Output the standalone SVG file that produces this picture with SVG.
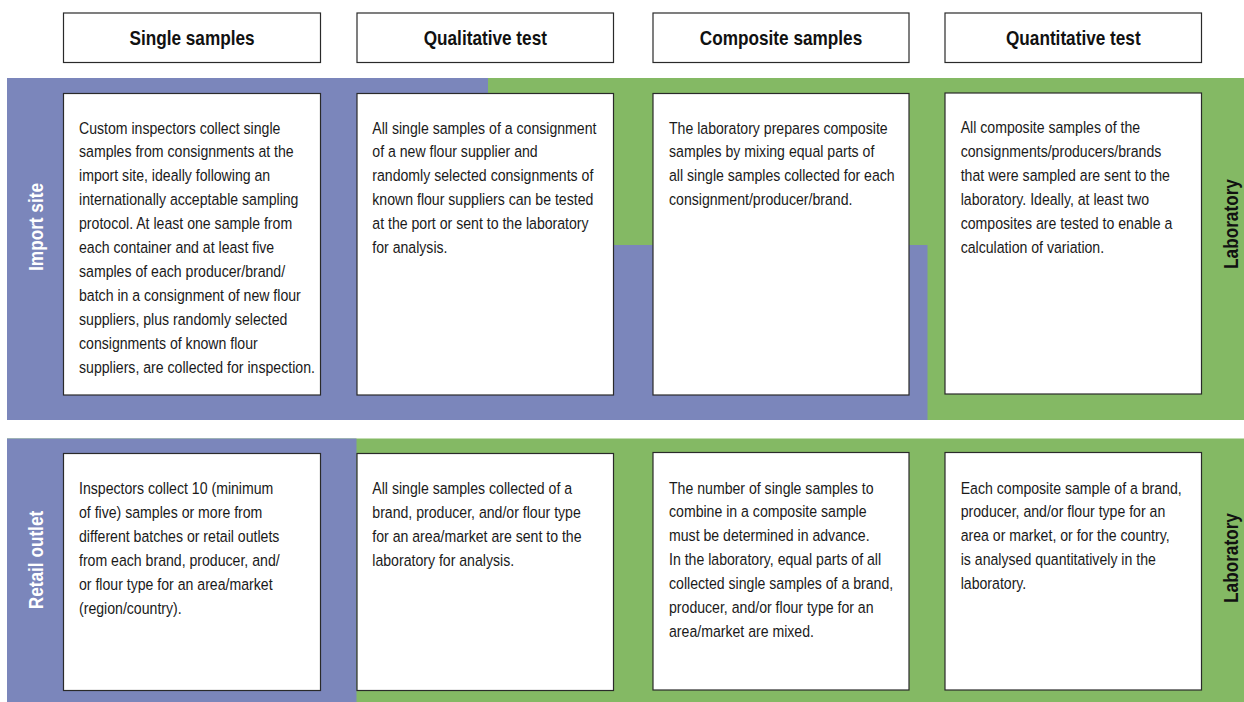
<svg xmlns="http://www.w3.org/2000/svg" width="1244" height="702" viewBox="0 0 1244 702">
<style>
.box{fill:#fff;stroke:#2a2a2a;stroke-width:1.2}
.body{font-family:"Liberation Sans",Arial,sans-serif;font-size:17px;fill:#1a1a1a}
.head{font-family:"Liberation Sans",Arial,sans-serif;font-size:20px;font-weight:bold;fill:#111;text-anchor:middle}
.side{font-family:"Liberation Sans",Arial,sans-serif;font-size:20px;font-weight:bold;text-anchor:middle}
.purple{fill:#7B86BB}
.green{fill:#84B964}
</style>
<rect width="1244" height="702" fill="#fff"/>
<g id="bands">
<rect class="green" x="7" y="78" width="1237" height="342"/>
<polygon class="purple" points="7,78 488,78 488,245 927.5,245 927.5,420 7,420"/>
<rect class="green" x="7" y="438.5" width="1237" height="263.5"/>
<rect class="purple" x="7" y="438.5" width="349.5" height="263.5"/>
</g>
<g id="side-labels">
<g transform="translate(36,227) rotate(-90) scale(0.86,1)"><text class="side" x="0" y="7" fill="#fff">Import site</text></g>
<g transform="translate(1231,224) rotate(-90) scale(0.86,1)"><text class="side" x="0" y="7" fill="#111">Laboratory</text></g>
<g transform="translate(36,560) rotate(-90) scale(0.86,1)"><text class="side" x="0" y="7" fill="#fff">Retail outlet</text></g>
<g transform="translate(1231,558) rotate(-90) scale(0.86,1)"><text class="side" x="0" y="7" fill="#111">Laboratory</text></g>
</g>
<g id="header-single">
<rect class="box" x="63.5" y="13" width="257" height="49.5"/>
<g transform="translate(192,44.5) scale(0.86,1)"><text class="head" x="0" y="0">Single samples</text></g>
</g>
<g id="header-qualitative">
<rect class="box" x="357" y="13" width="256.5" height="49.5"/>
<g transform="translate(485.3,44.5) scale(0.86,1)"><text class="head" x="0" y="0">Qualitative test</text></g>
</g>
<g id="header-composite">
<rect class="box" x="653" y="13" width="256" height="49.5"/>
<g transform="translate(781,44.5) scale(0.86,1)"><text class="head" x="0" y="0">Composite samples</text></g>
</g>
<g id="header-quantitative">
<rect class="box" x="945" y="13" width="256.5" height="49.5"/>
<g transform="translate(1073.3,44.5) scale(0.86,1)"><text class="head" x="0" y="0">Quantitative test</text></g>
</g>
<g id="import-single">
<rect class="box" x="63.5" y="93.5" width="257" height="301.5"/>
<g transform="translate(79,133.5) scale(0.83,1)"><text class="body">
<tspan x="0" y="0">Custom inspectors collect single</tspan>
<tspan x="0" dy="24">samples from consignments at the</tspan>
<tspan x="0" dy="24">import site, ideally following an</tspan>
<tspan x="0" dy="24">internationally acceptable sampling</tspan>
<tspan x="0" dy="24">protocol. At least one sample from</tspan>
<tspan x="0" dy="24">each container and at least five</tspan>
<tspan x="0" dy="24">samples of each producer/brand/</tspan>
<tspan x="0" dy="24">batch in a consignment of new flour</tspan>
<tspan x="0" dy="24">suppliers, plus randomly selected</tspan>
<tspan x="0" dy="24">consignments of known flour</tspan>
<tspan x="0" dy="24">suppliers, are collected for inspection.</tspan>
</text></g>
</g>
<g id="import-qualitative">
<rect class="box" x="357" y="93.5" width="256.5" height="301.5"/>
<g transform="translate(372.3,133.5) scale(0.83,1)"><text class="body">
<tspan x="0" y="0">All single samples of a consignment</tspan>
<tspan x="0" dy="24">of a new flour supplier and</tspan>
<tspan x="0" dy="24">randomly selected consignments of</tspan>
<tspan x="0" dy="24">known flour suppliers can be tested</tspan>
<tspan x="0" dy="24">at the port or sent to the laboratory</tspan>
<tspan x="0" dy="24">for analysis.</tspan>
</text></g>
</g>
<g id="import-composite">
<rect class="box" x="653" y="93.5" width="256" height="301.5"/>
<g transform="translate(669,133.5) scale(0.83,1)"><text class="body">
<tspan x="0" y="0">The laboratory prepares composite</tspan>
<tspan x="0" dy="24">samples by mixing equal parts of</tspan>
<tspan x="0" dy="24">all single samples collected for each</tspan>
<tspan x="0" dy="24">consignment/producer/brand.</tspan>
</text></g>
</g>
<g id="import-quantitative">
<rect class="box" x="945" y="93" width="256.5" height="301"/>
<g transform="translate(960.7,133) scale(0.83,1)"><text class="body">
<tspan x="0" y="0">All composite samples of the</tspan>
<tspan x="0" dy="24">consignments/producers/brands</tspan>
<tspan x="0" dy="24">that were sampled are sent to the</tspan>
<tspan x="0" dy="24">laboratory. Ideally, at least two</tspan>
<tspan x="0" dy="24">composites are tested to enable a</tspan>
<tspan x="0" dy="24">calculation of variation.</tspan>
</text></g>
</g>
<g id="retail-single">
<rect class="box" x="63.5" y="453.5" width="257" height="237"/>
<g transform="translate(79,494) scale(0.83,1)"><text class="body">
<tspan x="0" y="0">Inspectors collect 10 (minimum</tspan>
<tspan x="0" dy="24">of five) samples or more from</tspan>
<tspan x="0" dy="24">different batches or retail outlets</tspan>
<tspan x="0" dy="24">from each brand, producer, and/</tspan>
<tspan x="0" dy="24">or flour type for an area/market</tspan>
<tspan x="0" dy="24">(region/country).</tspan>
</text></g>
</g>
<g id="retail-qualitative">
<rect class="box" x="357" y="453.5" width="256.5" height="237"/>
<g transform="translate(372.3,494) scale(0.83,1)"><text class="body">
<tspan x="0" y="0">All single samples collected of a</tspan>
<tspan x="0" dy="24">brand, producer, and/or flour type</tspan>
<tspan x="0" dy="24">for an area/market are sent to the</tspan>
<tspan x="0" dy="24">laboratory for analysis.</tspan>
</text></g>
</g>
<g id="retail-composite">
<rect class="box" x="653" y="452.5" width="256" height="237.5"/>
<g transform="translate(669,493.5) scale(0.83,1)"><text class="body">
<tspan x="0" y="0">The number of single samples to</tspan>
<tspan x="0" dy="24">combine in a composite sample</tspan>
<tspan x="0" dy="24">must be determined in advance.</tspan>
<tspan x="0" dy="24">In the laboratory, equal parts of all</tspan>
<tspan x="0" dy="24">collected single samples of a brand,</tspan>
<tspan x="0" dy="24">producer, and/or flour type for an</tspan>
<tspan x="0" dy="24">area/market are mixed.</tspan>
</text></g>
</g>
<g id="retail-quantitative">
<rect class="box" x="945" y="452.5" width="256.5" height="237.5"/>
<g transform="translate(960.7,493.5) scale(0.83,1)"><text class="body">
<tspan x="0" y="0">Each composite sample of a brand,</tspan>
<tspan x="0" dy="24">producer, and/or flour type for an</tspan>
<tspan x="0" dy="24">area or market, or for the country,</tspan>
<tspan x="0" dy="24">is analysed quantitatively in the</tspan>
<tspan x="0" dy="24">laboratory.</tspan>
</text></g>
</g>
<g id="connectors"></g>
</svg>
